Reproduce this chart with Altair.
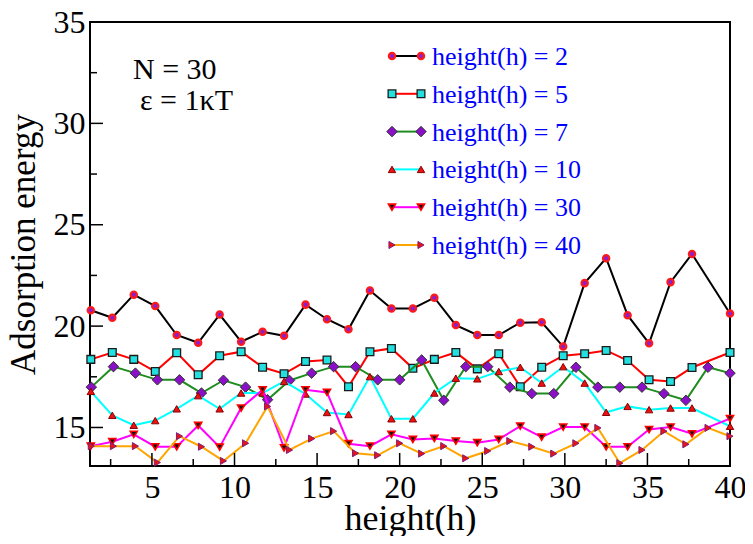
import altair as alt
import pandas as pd

# ---- data ----
x_grid_a = [1.3, 2.6, 3.9, 5.2, 6.5, 7.8, 9.1, 10.4, 11.7, 13.0, 14.3, 15.6, 16.9, 18.2, 19.5,
            20.8, 22.1, 23.4, 24.7, 26.0, 27.3, 28.6, 29.9, 31.2, 32.5, 33.8, 35.1, 36.4, 37.7, 40.0]
x_grid_b = [1.33, 2.67, 4.0, 5.33, 6.67, 8.0, 9.33, 10.67, 12.0, 13.33, 14.67, 16.0, 17.33, 18.67, 20.0,
            21.33, 22.67, 24.0, 25.33, 26.67, 28.0, 29.33, 30.67, 32.0, 33.33, 34.67, 36.0, 37.33, 38.67, 40.0]

y_h2 = [20.78, 20.41, 21.55, 20.99, 19.56, 19.18, 20.57, 19.23, 19.72, 19.52, 21.06, 20.34, 19.84, 21.76, 20.87,
        20.87, 21.40, 20.05, 19.56, 19.56, 20.17, 20.19, 18.99, 22.12, 23.35, 20.54, 19.15, 22.17, 23.56, 20.62]
y_h5 = [18.36, 18.70, 18.36, 17.76, 18.69, 17.60, 18.54, 18.74, 17.97, 17.65, 18.25, 18.33, 17.01, 18.74, 18.90,
        17.92, 18.36, 18.70, 17.89, 18.64, 17.01, 17.97, 18.54, 18.64, 18.80, 18.30, 17.35, 17.27, 17.96, 18.70]
y_h7 = [16.99, 18.00, 17.68, 17.35, 17.35, 16.70, 17.33, 16.99, 16.37, 17.32, 17.68, 18.00, 18.00, 17.35, 17.35,
        18.33, 16.34, 18.00, 18.00, 16.99, 16.67, 16.67, 17.97, 16.99, 16.99, 16.99, 16.67, 16.34, 17.97, 17.68]
y_h10 = [16.78, 15.60, 15.11, 15.34, 15.92, 16.57, 15.92, 16.70, 16.70, 17.27, 16.65, 15.74, 15.64, 17.51, 15.43,
         15.43, 16.70, 17.43, 17.40, 17.76, 17.97, 17.19, 18.00, 17.19, 15.75, 16.04, 15.88, 15.96, 15.96, 15.06]
y_h30 = [14.08, 14.30, 14.66, 14.05, 14.05, 15.10, 14.03, 15.96, 16.86, 13.99, 16.86, 16.73, 14.20, 14.08, 14.66,
         14.41, 14.46, 14.33, 14.25, 14.41, 15.07, 14.52, 15.02, 15.02, 14.05, 14.05, 14.90, 15.02, 14.69, 15.44]
y_h40 = [14.08, 14.08, 14.08, 13.27, 14.57, 14.05, 13.35, 14.22, 16.04, 13.89, 14.45, 14.82, 13.73, 13.63, 14.22,
         13.71, 14.08, 13.48, 13.84, 14.33, 14.05, 13.71, 14.22, 14.98, 13.24, 13.89, 14.82, 14.17, 14.98, 14.57]

labels = ["height(h) = 2", "height(h) = 5", "height(h) = 7",
          "height(h) = 10", "height(h) = 30", "height(h) = 40"]
series_x = [x_grid_a, x_grid_a, x_grid_b, x_grid_a, x_grid_a, x_grid_b]
series_y = [y_h2, y_h5, y_h7, y_h10, y_h30, y_h40]

x_label_values = [5, 10, 15, 20, 25, 30, 35, 40]
y_label_values = [15, 20, 25, 30, 35]
x_major_ticks = [5, 10, 15, 20, 25, 30, 35]
x_minor_ticks = [2.5, 7.5, 12.5, 17.5, 22.5, 27.5, 32.5, 37.5]
y_major_ticks = [15, 20, 25, 30]
y_minor_ticks = [17.5, 22.5, 27.5, 32.5]

# ---- styles ----
styles = [
    dict(line="#000000", shape="circle", fill="#8a1fd0", stroke="#ff1a1a", size=40, sw=2.2),
    dict(line="#ff0000", shape="square", fill="#22e0e0", stroke="#1a1a1a", size=60, sw=1.3),
    dict(line="#1e8c1e", shape="diamond", fill="#8a10c8", stroke="#333333", size=110, sw=1.0),
    dict(line="#00ffff", shape="triangle-up", fill="#ee1111", stroke="#8b0000", size=55, sw=1.0),
    dict(line="#ff00ff", shape="triangle-down", fill="#111111", stroke="#ff0000", size=50, sw=1.6),
    dict(line="#ffa500", shape="triangle-right", fill="#ee1111", stroke="#7a1f7a", size=50, sw=1.0),
]

W, H = 640, 444
PAD_L, PAD_T = 82, 14
FONT = "Liberation Serif"

xs = alt.Scale(domain=[1.25, 40], nice=False, zero=False)
ys = alt.Scale(domain=[13.1, 35], nice=False, zero=False)

X = alt.X("x:Q", scale=xs, title="height(h)",
          axis=alt.Axis(values=x_label_values, format="d", labelFontSize=32, labelPadding=6,
                        titleFontSize=36, titleBaseline="alphabetic", titleY=63,
                        labelFlush=False))
Y = alt.Y("y:Q", scale=ys, title="Adsorption energy",
          axis=alt.Axis(values=y_label_values, format="d", labelFontSize=32, labelPadding=5,
                        titleFontSize=35, titleBaseline="alphabetic", titleX=-56,
                        labelFlush=False))

layers = []
for lab, xv, yv, st in zip(labels, series_x, series_y, styles):
    df = pd.DataFrame({"x": xv, "y": yv})
    base = alt.Chart(df)
    layers.append(base.mark_line(color=st["line"], strokeWidth=2).encode(x=X, y=Y))
    layers.append(base.mark_point(shape=st["shape"], filled=True, fill=st["fill"], stroke=st["stroke"],
                                  strokeWidth=st["sw"], size=st["size"], opacity=1).encode(x=X, y=Y))

# inward ticks
for vals, ln in [(x_major_ticks, 13), (x_minor_ticks, 7)]:
    layers.append(alt.Chart(pd.DataFrame({"x": vals})).mark_rule(color="black", strokeWidth=1.5).encode(
        x=X, y=alt.value(H), y2=alt.value(H - ln)))
for vals, ln in [(y_major_ticks, 13), (y_minor_ticks, 7)]:
    layers.append(alt.Chart(pd.DataFrame({"y": vals})).mark_rule(color="black", strokeWidth=1.5).encode(
        y=Y, x=alt.value(0), x2=alt.value(ln)))

# legend (manual, inside the plot); positions relative to the plot's top-left corner
ox, oy = 8 + PAD_L, 8 + PAD_T
lx1, lx2, ltx = 392 - ox, 421 - ox, 432 - ox
for i, (lab, st) in enumerate(zip(labels, styles)):
    ry = 56 - oy + i * 37.8
    d = alt.Chart(pd.DataFrame({"label": [lab]}))
    layers.append(d.mark_rule(color=st["line"], strokeWidth=2).encode(
        x=alt.value(lx1), x2=alt.value(lx2), y=alt.value(ry)))
    for px in (lx1, lx2):
        layers.append(d.mark_point(shape=st["shape"], filled=True, fill=st["fill"], stroke=st["stroke"],
                                   strokeWidth=st["sw"], size=st["size"], opacity=1).encode(
            x=alt.value(px), y=alt.value(ry)))
    layers.append(d.mark_text(font=FONT, fontSize=26, color="#0000ff", align="left",
                              baseline="middle").encode(
        x=alt.value(ltx), y=alt.value(ry + 1), text="label:N"))

# annotation
layers.append(alt.Chart(pd.DataFrame({"t": ["N = 30"]})).mark_text(
    font=FONT, fontSize=30, color="black", align="left", baseline="alphabetic").encode(
    x=alt.value(133 - ox), y=alt.value(79 - oy), text="t:N"))
layers.append(alt.Chart(pd.DataFrame({"t": ["ε = 1κT"]})).mark_text(
    font=FONT, fontSize=30, color="black", align="left", baseline="alphabetic").encode(
    x=alt.value(140 - ox), y=alt.value(110 - oy), text="t:N"))

chart = alt.layer(*layers).properties(
    width=W, height=H,
    autosize=alt.AutoSizeParams(type="none"),
    padding={"left": PAD_L, "top": PAD_T, "right": 15, "bottom": 70},
    background="white",
).configure_axis(
    labelFont=FONT, titleFont=FONT, labelColor="black", titleColor="black",
    titleFontWeight="normal", grid=False, ticks=False, domain=False,
).configure_view(stroke="black", strokeWidth=2)

chart.save("out.html", embed_options={"renderer": "svg", "actions": False})
